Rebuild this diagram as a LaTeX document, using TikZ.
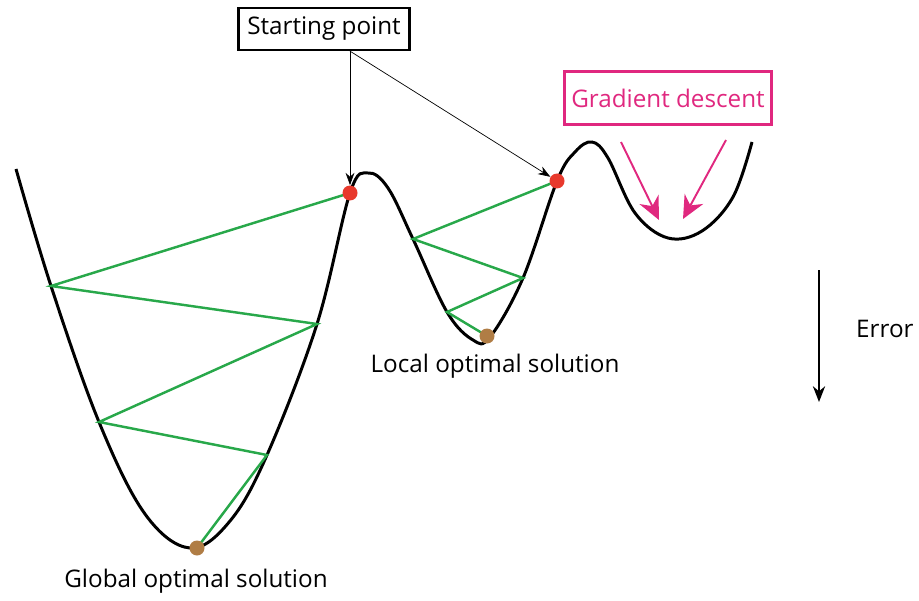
\documentclass[tikz,border=0pt]{standalone}
\usepackage{fontspec}
\setmainfont{Open Sans}
\usetikzlibrary{arrows.meta}

\begin{document}
\begin{tikzpicture}[x=0.02cm, y=-0.02cm, font=\fontsize{13.8}{16}\selectfont]
    % Define colours
    \definecolor{stepColour}{HTML}{28A84A}
    \definecolor{startColour}{HTML}{E8392C}
    \definecolor{optColour}{HTML}{B07D45}
    \definecolor{descentColour}{HTML}{E0287F}

    % Define styles
    \tikzset{
        errorcurve/.style={line width=1.7pt, black},
        stepline/.style={line width=1.4pt, stepColour},
        startdot/.style={circle, fill=startColour, inner sep=0pt, minimum size=15*0.02cm},
        optdot/.style={circle, fill=optColour, inner sep=0pt, minimum size=15*0.02cm},
        pointer/.style={thin, -{Stealth[length=7pt, width=5pt]}},
        descent/.style={line width=1.1pt, descentColour, -{Stealth[length=13pt, width=12pt]}},
    }

    % Fix picture size
    \useasboundingbox (0,0) rectangle (919,601);

    % Draw error curve
    \draw[errorcurve] plot[smooth, tension=0.6] coordinates {
        (16,169) (51,286) (99,422) (145,514) (190,548) (230,521)
        (267,455) (317,324) (350,193) (368,173) (388,188) (413,239)
        (447,312) (473,340) (490,337) (523,278) (557,181) (575,152) (592,142)
        (608,158) (635,213) (668,238) (702,231) (733,197) (752,142)};

    % Define coordinates for the steps
    \coordinate (a1) at (51,286);
    \coordinate (a2) at (317,324);
    \coordinate (a3) at (99,422);
    \coordinate (a4) at (267,455);
    \coordinate (b1) at (413,239);
    \coordinate (b2) at (523,278);
    \coordinate (b3) at (447,312);

    % Draw steps
    \draw[stepline] (350,193) -- (a1) -- (a2) -- (a3) -- (a4) -- (197,548);
    \draw[stepline] (557,181) -- (b1) -- (b2) -- (b3) -- (487,336);

    % Draw start and end points
    \node[startdot] (s1) at (350,193) {};
    \node[startdot] (s2) at (557,181) {};
    \node[optdot] (globalopt) at (197,548) {};
    \node[optdot] (localopt) at (487,336) {};

    % Label the points
    \node[draw, line width=1.3pt, minimum width=171*0.02cm, minimum height=42*0.02cm] (start) at (324,29) {Starting point};
    \node (locallabel) at (495,366) {Local optimal solution};
    \node (globallabel) at (196,581) {Global optimal solution};

    % Draw pointers from the start label
    \draw[pointer] (start.south -| s1) -- (s1.north);
    \draw[pointer] (start.south -| s1) -- (s2);

    % Draw gradient descent
    \node[draw=descentColour, text=descentColour, line width=1.3pt, minimum width=207*0.02cm, minimum height=53*0.02cm] (descent) at (668,98) {Gradient descent};
    \coordinate (d1) at (621,142);
    \coordinate (d2) at (659,220);
    \coordinate (d3) at (726,140);
    \coordinate (d4) at (683,219);
    \draw[descent] (d1) -- (d2);
    \draw[descent] (d3) -- (d4);

    % Draw error axis
    \coordinate (errtop) at (819,270);
    \coordinate (errbot) at (819,402);
    \draw[line width=0.9pt, -{Stealth[length=9pt, width=7pt]}] (errtop) -- (errbot);
    \node[anchor=west] (error) at (850,329) {Error};

\end{tikzpicture}
\end{document}
